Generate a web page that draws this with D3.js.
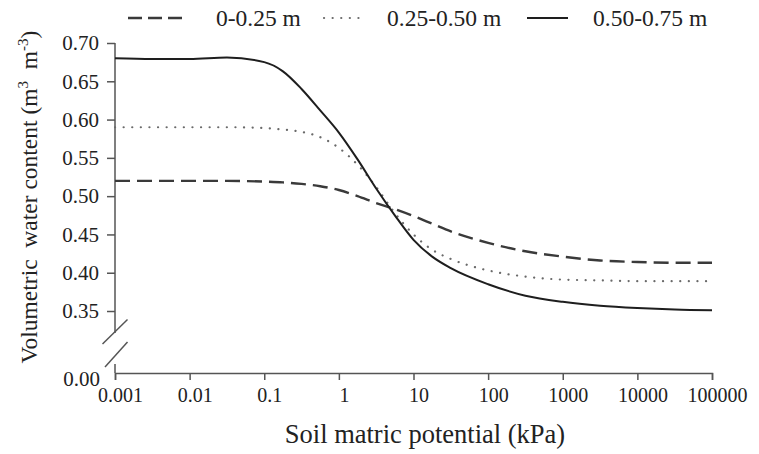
<!DOCTYPE html>
<html>
<head>
  <meta charset="utf-8">
  <title>Soil water retention</title>
  <script src="https://d3js.org/d3.v7.min.js"></script>
  <style>
    body { margin: 0; background: #fff; }
    svg, svg text { font-family: "Times New Roman", "Liberation Serif", serif !important; }
    .axis line { stroke: #555; stroke-width: 1.5; }
    .line { fill: none; }
  </style>
</head>
<body>
  <svg width="759" height="454"></svg>
  <script>
    // soil matric potential (kPa), sampled along the log axis
    const potential = [0.001, 0.00316, 0.01, 0.0316, 0.1, 0.178, 0.316, 0.562, 1, 1.78, 3.16, 5.62,
                       10, 17.8, 31.6, 100, 316, 1000, 3162, 10000, 31623, 100000];
    const layer1 = [0.520, 0.520, 0.520, 0.520, 0.519, 0.518, 0.516, 0.513, 0.508, 0.500, 0.491, 0.483,
                    0.474, 0.464, 0.454, 0.439, 0.428, 0.421, 0.416, 0.414, 0.413, 0.413];
    const layer2 = [0.590, 0.590, 0.590, 0.590, 0.589, 0.587, 0.584, 0.577, 0.563, 0.541, 0.512, 0.478,
                    0.450, 0.430, 0.418, 0.403, 0.395, 0.391, 0.390, 0.389, 0.389, 0.389];
    const layer3 = [0.680, 0.679, 0.679, 0.681, 0.675, 0.663, 0.640, 0.612, 0.583, 0.548, 0.510, 0.475,
                    0.443, 0.421, 0.406, 0.385, 0.370, 0.362, 0.357, 0.354, 0.352, 0.351];
    const seriesNames = ["0-0.25 m", "0.25-0.50 m", "0.50-0.75 m"];
    const xTicks = [0.001, 0.01, 0.1, 1, 10, 100, 1000, 10000, 100000];
    const yTicks = [0, 0.35, 0.40, 0.45, 0.50, 0.55, 0.60, 0.65, 0.70];

    const styles = [
      { stroke: "#3a3a3a", width: 2.4, dash: "15,7", cap: "butt" },
      { stroke: "#6a6a6a", width: 2.2, dash: "0.1,8.5", cap: "round" },
      { stroke: "#1e1e1e", width: 2, dash: null, cap: "butt" }
    ];

    const svg = d3.select("svg"),
          margin = {top: 43, right: 47, bottom: 81, left: 115},
          width = +svg.attr("width") - margin.left - margin.right,
          height = +svg.attr("height") - margin.top - margin.bottom;

    const g = svg.append("g").attr("transform", `translate(${margin.left},${margin.top})`);

    const x = d3.scaleLog()
                .domain([0.001, 100000])
                .range([0, width]);

    // broken axis: 0 sits at the bottom, 0.30-0.70 fills the rest
    const y = d3.scaleLinear()
                .domain([0, 0.30, 0.70])
                .range([height, height - 23.7, 0]);

    // x axis
    const xAxis = g.append("g")
      .attr("class", "axis x")
      .attr("transform", `translate(0,${height})`)
      .call(d3.axisBottom(x).tickValues(xTicks).tickFormat(d => String(d)).tickSize(7).tickPadding(8));
    xAxis.select(".domain").attr("stroke", "#555").attr("stroke-width", 1.5);
    xAxis.selectAll("text").attr("font-size", 20).attr("fill", "#222").attr("dx", 5);

    // y axis
    const yAxis = g.append("g")
      .attr("class", "axis y")
      .call(d3.axisLeft(y).tickValues(yTicks).tickFormat(d3.format(".2f")).tickSize(8).tickPadding(8));
    yAxis.select(".domain").remove();
    yAxis.selectAll("text").attr("font-size", 21).attr("fill", "#222");
    yAxis.selectAll(".tick").filter(d => d === 0).select("line").remove();
    yAxis.selectAll(".tick").filter(d => d === 0).select("text").attr("dy", "0.6em").attr("x", -15);

    // axis line with break marks
    const yb = height - 40;
    g.append("line").attr("x1", 0).attr("x2", 0).attr("y1", 0).attr("y2", yb)
      .attr("stroke", "#555").attr("stroke-width", 1.5);
    g.append("line").attr("x1", 0).attr("x2", 0).attr("y1", height - 9).attr("y2", height)
      .attr("stroke", "#555").attr("stroke-width", 1.5);
    [[-12.5, 11, 12.5, -13.5], [-10, 34, 12.5, 9]].forEach(s => {
      g.append("line")
        .attr("x1", s[0]).attr("y1", yb + s[1]).attr("x2", s[2]).attr("y2", yb + s[3])
        .attr("stroke", "#555").attr("stroke-width", 1.5);
    });

    // curves
    const line = d3.line()
                   .x(d => x(d[0]))
                   .y(d => y(d[1]))
                   .curve(d3.curveMonotoneX);

    [layer1, layer2, layer3].forEach((vals, i) => {
      const st = styles[i];
      g.append("path")
        .datum(potential.map((p, j) => [p, vals[j]]))
        .attr("class", "line")
        .attr("d", line)
        .attr("stroke", st.stroke)
        .attr("stroke-width", st.width)
        .attr("stroke-linecap", st.cap)
        .attr("stroke-dasharray", st.dash);
    });

    // legend
    const legendPos = [
      { x1: 128, x2: 184, tx: 216 },
      { x1: 324, x2: 363, tx: 387 },
      { x1: 527, x2: 568, tx: 593 }
    ];
    const legend = svg.append("g").attr("class", "legend");
    seriesNames.forEach((name, i) => {
      const st = styles[i], p = legendPos[i];
      legend.append("line")
        .attr("x1", p.x1).attr("x2", p.x2).attr("y1", 18).attr("y2", 18)
        .attr("stroke", st.stroke)
        .attr("stroke-width", st.width)
        .attr("stroke-linecap", st.cap)
        .attr("stroke-dasharray", i === 0 ? "14,6" : st.dash);
      legend.append("text")
        .attr("x", p.tx).attr("y", 26)
        .attr("font-size", 23.5)
        .attr("fill", "#222")
        .text(name);
    });

    // axis titles
    svg.append("text")
      .attr("x", 425).attr("y", 443)
      .attr("text-anchor", "middle")
      .attr("font-size", 26.5)
      .attr("fill", "#222")
      .text("Soil matric potential (kPa)");

    const yt = svg.append("text")
      .attr("transform", "translate(37,197) rotate(-90)")
      .attr("text-anchor", "middle")
      .attr("font-size", 23.5)
      .attr("fill", "#222");
    yt.append("tspan").text("Volumetric\u00a0\u00a0water content (m");
    yt.append("tspan").attr("dy", -9).attr("font-size", 15).text("3");
    yt.append("tspan").attr("dy", 9).text("\u00a0\u00a0m");
    yt.append("tspan").attr("dy", -9).attr("font-size", 15).text("-3");
    yt.append("tspan").attr("dy", 9).text(")");
  </script>
</body>
</html>
